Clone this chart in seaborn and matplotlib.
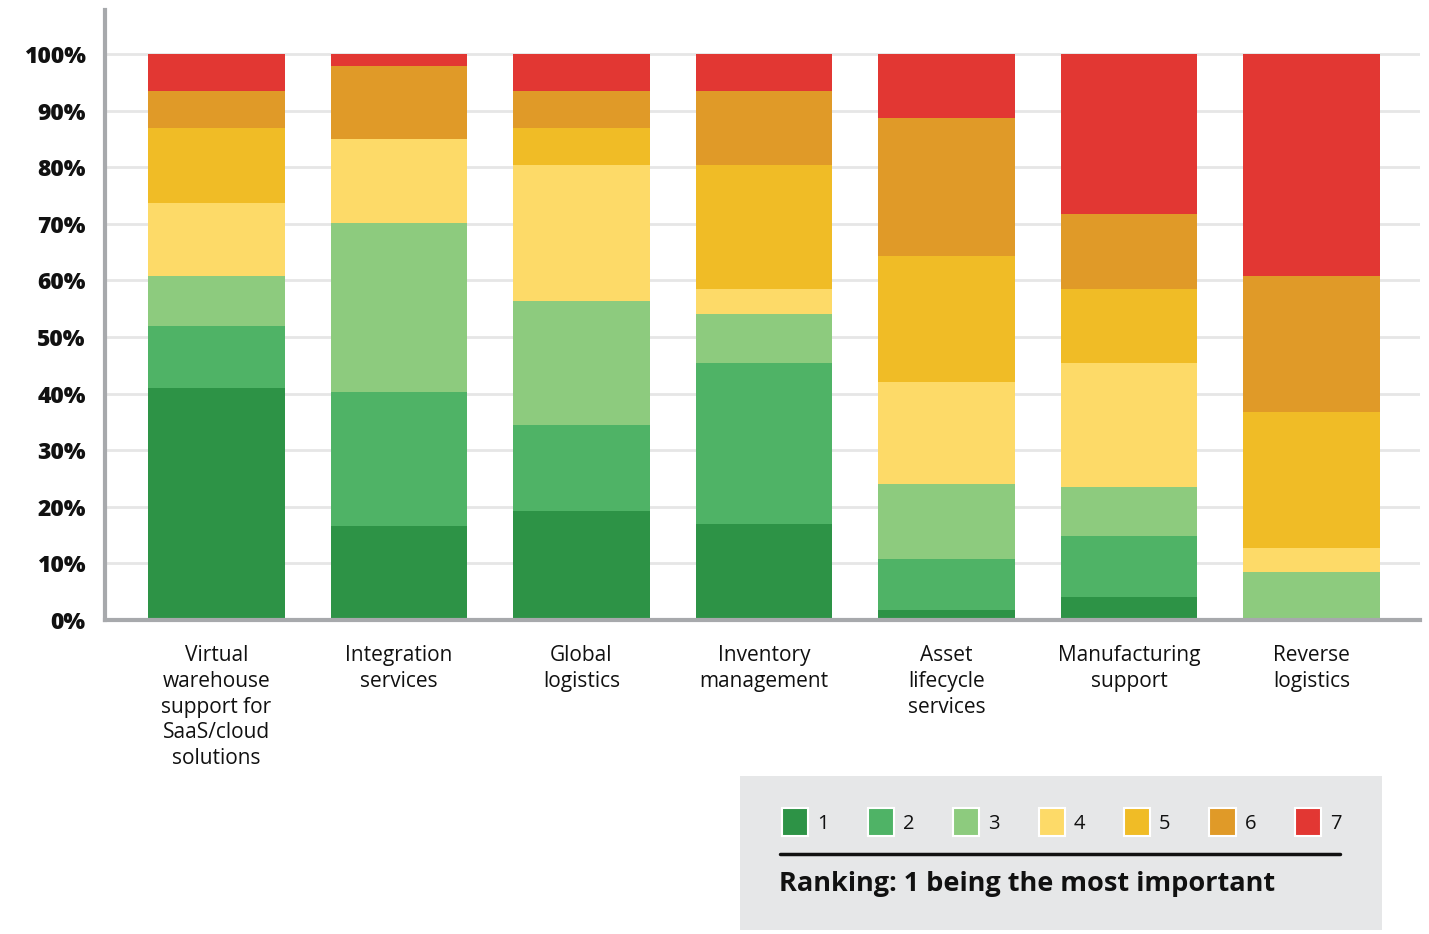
import matplotlib
matplotlib.use("Agg")
import matplotlib.pyplot as plt
from matplotlib.patches import Patch
from matplotlib.lines import Line2D
import numpy as np
import pandas as pd
import seaborn as sns

# Survey categories (x axis)
categories = [
    "Virtual\nwarehouse\nsupport for\nSaaS/cloud\nsolutions",
    "Integration\nservices",
    "Global\nlogistics",
    "Inventory\nmanagement",
    "Asset\nlifecycle\nservices",
    "Manufacturing\nsupport",
    "Reverse\nlogistics",
]

# Share of respondents (%) giving each rank, per category
rank_1 = [41.0, 16.6, 19.3, 17.0, 1.8, 4.0, 0.0]
rank_2 = [10.9, 23.7, 15.2, 28.4, 9.0, 10.8, 0.0]
rank_3 = [8.9, 29.8, 21.9, 8.7, 13.2, 8.7, 8.4]
rank_4 = [12.9, 14.9, 24.0, 4.4, 18.0, 21.9, 4.4]
rank_5 = [13.2, 0.0, 6.5, 21.9, 22.3, 13.1, 23.9]
rank_6 = [6.6, 12.9, 6.6, 13.1, 24.4, 13.2, 24.1]
rank_7 = [6.5, 2.1, 6.5, 6.5, 11.3, 28.3, 39.2]

rank_labels = ["1", "2", "3", "4", "5", "6", "7"]
rank_colors = ["#2d9346", "#4fb366", "#8dcb7e", "#fdda68", "#f0bc26", "#e09a28", "#e23733"]

y_ticks = [0, 10, 20, 30, 40, 50, 60, 70, 80, 90, 100]
y_tick_labels = [f"{v}%" for v in y_ticks]

legend_title = "Ranking: 1 being the most important"

sns.set_theme(style="white")
plt.rcParams["font.family"] = ["Open Sans", "DejaVu Sans"]

fig = plt.figure(figsize=(14.29, 9.34), dpi=100)
ax = fig.add_axes([105 / 1429, 1 - 620 / 934, 1315 / 1429, 610 / 934])

ranks = np.array([rank_1, rank_2, rank_3, rank_4, rank_5, rank_6, rank_7])
cumulative = np.cumsum(ranks, axis=0)

# Stacked bars: draw cumulative totals from the top rank down so lower ranks overlay
for i in range(len(rank_labels) - 1, -1, -1):
    df = pd.DataFrame({"category": categories, "value": cumulative[i]})
    sns.barplot(data=df, x="category", y="value", order=categories,
                color=rank_colors[i], saturation=1, width=0.75,
                errorbar=None, ax=ax, zorder=3, linewidth=0)

ax.set_xlim(-0.611, 6.595)
ax.set_ylim(0, 107.8)
ax.set_xlabel("")
ax.set_ylabel("")

ax.set_yticks(y_ticks)
ax.set_yticklabels(y_tick_labels, fontsize=16.5, fontweight="heavy", color="#111111")
ax.tick_params(axis="y", length=0, pad=14)
ax.tick_params(axis="x", length=0, pad=18)
for lbl in ax.get_xticklabels():
    lbl.set_fontsize(15)
    lbl.set_color("#111111")
    lbl.set_linespacing(1.3)

ax.grid(axis="y", color="#e6e6e6", linewidth=2, zorder=0)
ax.grid(axis="x", visible=False)
for side in ["top", "right"]:
    ax.spines[side].set_visible(False)
for side in ["left", "bottom"]:
    ax.spines[side].set_color("#a7a9ac")
    ax.spines[side].set_linewidth(3)
    ax.spines[side].set_zorder(4)

# Legend panel
lax = fig.add_axes([740 / 1429, 1 - 930 / 934, 642 / 1429, 154 / 934])
lax.set_facecolor("#e6e7e8")
lax.set_xticks([])
lax.set_yticks([])
for s in lax.spines.values():
    s.set_visible(False)
lax.set_xlim(0, 1)
lax.set_ylim(0, 1)

handles = [Patch(facecolor=c, edgecolor="white", linewidth=1.5, label=l)
           for c, l in zip(rank_colors, rank_labels)]
leg = lax.legend(handles=handles, ncol=7, loc="center left",
                 bbox_to_anchor=(0.053, 0.70), frameon=False,
                 fontsize=14.5, handlelength=1.3, handleheight=1.72,
                 handletextpad=0.45, columnspacing=1.92, borderaxespad=0)
for t in leg.get_texts():
    t.set_color("#111111")

lax.add_line(Line2D([0.0623, 0.9346], [0.4935, 0.4935], color="#111111", linewidth=2.5))
lax.text(0.0607, 0.30, legend_title, fontsize=19.5, fontweight="bold",
         color="#111111", ha="left", va="center")

fig.savefig("out.png", dpi=100, facecolor="white")
